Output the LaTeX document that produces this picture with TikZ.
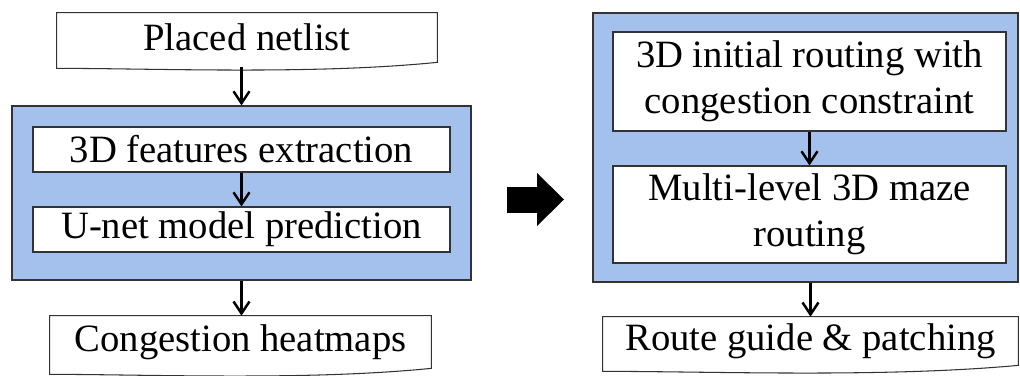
\documentclass[tikz,border=0pt]{standalone}
\usepackage{fontspec}
\setmainfont{Liberation Serif}
\usepackage{xcolor}
\usepackage{tikz}
\usetikzlibrary{positioning,calc,arrows.meta}

\definecolor{stageblue}{RGB}{163,193,236}

\tikzset{
    stage/.style={draw=black!80, line width=0.6pt, fill=stageblue, inner sep=0pt},
    stepbox/.style={draw=black!80, line width=0.6pt, fill=white, inner sep=0pt, align=center,
        font=\fontsize{22}{26}\selectfont},
    doctext/.style={inner sep=0pt, align=center, font=\fontsize{22}{26}\selectfont},
    docline/.style={draw=black!80, line width=0.6pt},
    flow/.style={-{Straight Barb[length=2.4mm,width=3.2mm]}, line width=1.4pt}
}

\begin{document}
\begin{tikzpicture}
    \useasboundingbox (0,0) rectangle (20.4,7.5);

    % Left stage: congestion prediction
    \node[doctext, minimum width=7.6cm, minimum height=0.98cm] (plc) at (4.94,6.75) {Placed netlist};
    \node[stage, minimum width=9.18cm, minimum height=3.48cm] (lft) at (4.83,3.64) {};
    \node[stepbox, minimum width=8.34cm, minimum height=0.9cm] (feat) at (4.83,4.51) {3D features extraction};
    \node[stepbox, minimum width=8.34cm, minimum height=0.9cm] (unet) at (4.83,2.91) {U-net model prediction};
    \node[doctext, minimum width=7.62cm, minimum height=1.04cm] (heat) at (4.81,0.66) {Congestion heatmaps};

    % Right stage: routing
    \node[stage, minimum width=8.5cm, minimum height=5.38cm] (rgt) at (16.11,4.55) {};
    \node[stepbox, minimum width=7.86cm, minimum height=1.98cm] (init) at (16.19,5.87) {3D initial routing with\\congestion constraint};
    \node[stepbox, minimum width=7.86cm, minimum height=1.94cm] (maze) at (16.19,3.21) {Multi-level 3D maze\\routing};
    \node[doctext, minimum width=8.3cm, minimum height=0.96cm] (guide) at (16.21,0.68) {Route guide \& patching};

    % Document outlines
    \draw[docline] (plc.north west) -- (plc.north east) -- (plc.south east)
        .. controls +(-2.5,-0.25) and +(2,0) .. ($(plc.south west)+(0,-0.12)$) -- cycle;
    \draw[docline] (heat.north west) -- (heat.north east) -- (heat.south east)
        .. controls +(-2.5,-0.25) and +(2,0) .. ($(heat.south west)+(0,-0.12)$) -- cycle;
    \draw[docline] (guide.north west) -- (guide.north east) -- (guide.south east)
        .. controls +(-2.7,-0.25) and +(2.2,0) .. ($(guide.south west)+(0,-0.12)$) -- cycle;

    % Flow arrows
    \draw[flow] ($(plc.south -| lft.north)+(0,-0.1)$) -- (lft.north);
    \draw[flow] (feat.south) -- (unet.north);
    \draw[flow] (lft.south) -- (lft.south |- heat.north);
    \draw[flow] (init.south) -- (maze.north);
    \draw[flow] (guide.north |- rgt.south) -- (guide.north);

    % Big arrow between stages
    \fill (10.14,3.76) -- (10.74,3.76) -- (10.74,4.04) -- (11.28,3.51) -- (10.74,2.98) -- (10.74,3.24) -- (10.14,3.24) -- cycle;
\end{tikzpicture}
\end{document}
